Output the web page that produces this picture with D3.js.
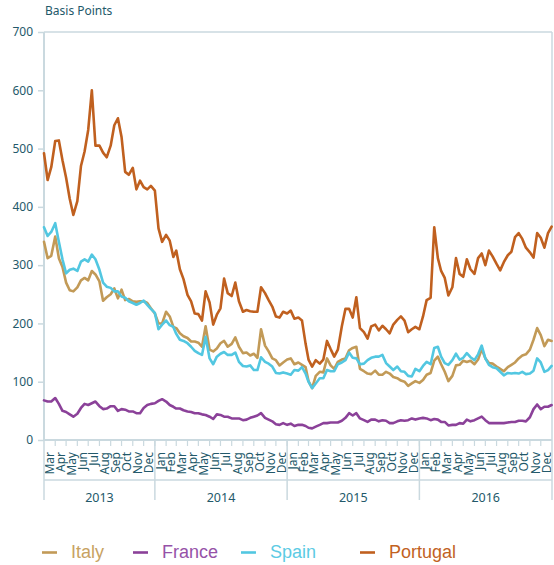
<!DOCTYPE html>
<html>
<head>
<meta charset="utf-8">
<script src="https://cdn.jsdelivr.net/npm/d3@7/dist/d3.min.js"></script>
<style>
  html, body { margin: 0; padding: 0; background: #ffffff; }
  svg { display: block; }
</style>
</head>
<body>
<div id="chart"></div>
<script>
// Sovereign spreads over German Bunds, basis points (sampled on the 1st, 11th and 21st of each month)
const dates = [
  "2013-03-01","2013-03-11","2013-03-21","2013-04-01","2013-04-11","2013-04-21",
  "2013-05-01","2013-05-11","2013-05-21","2013-06-01","2013-06-11","2013-06-21",
  "2013-07-01","2013-07-11","2013-07-21","2013-08-01","2013-08-11","2013-08-21",
  "2013-09-01","2013-09-11","2013-09-21","2013-10-01","2013-10-11","2013-10-21",
  "2013-11-01","2013-11-11","2013-11-21","2013-12-01","2013-12-11","2013-12-21",
  "2014-01-01","2014-01-11","2014-01-21","2014-02-01","2014-02-11","2014-02-21",
  "2014-03-01","2014-03-11","2014-03-21","2014-04-01","2014-04-11","2014-04-21",
  "2014-05-01","2014-05-11","2014-05-21","2014-06-01","2014-06-11","2014-06-21",
  "2014-07-01","2014-07-11","2014-07-21","2014-08-01","2014-08-11","2014-08-21",
  "2014-09-01","2014-09-11","2014-09-21","2014-10-01","2014-10-11","2014-10-21",
  "2014-11-01","2014-11-11","2014-11-21","2014-12-01","2014-12-11","2014-12-21",
  "2015-01-01","2015-01-11","2015-01-21","2015-02-01","2015-02-11","2015-02-21",
  "2015-03-01","2015-03-11","2015-03-21","2015-04-01","2015-04-11","2015-04-21",
  "2015-05-01","2015-05-11","2015-05-21","2015-06-01","2015-06-11","2015-06-21",
  "2015-07-01","2015-07-11","2015-07-21","2015-08-01","2015-08-11","2015-08-21",
  "2015-09-01","2015-09-11","2015-09-21","2015-10-01","2015-10-11","2015-10-21",
  "2015-11-01","2015-11-11","2015-11-21","2015-12-01","2015-12-11","2015-12-21",
  "2016-01-01","2016-01-11","2016-01-21","2016-02-01","2016-02-11","2016-02-21",
  "2016-03-01","2016-03-11","2016-03-21","2016-04-01","2016-04-11","2016-04-21",
  "2016-05-01","2016-05-11","2016-05-21","2016-06-01","2016-06-11","2016-06-21",
  "2016-07-01","2016-07-11","2016-07-21","2016-08-01","2016-08-11","2016-08-21",
  "2016-09-01","2016-09-11","2016-09-21","2016-10-01","2016-10-11","2016-10-21",
  "2016-11-01","2016-11-11","2016-11-21","2016-12-01","2016-12-11","2016-12-21",
  "2016-12-31"
];

const italy = [
  340,312,316,349,312,297,270,257,255,262,
  274,278,274,290,284,272,239,245,250,260,
  243,258,240,242,238,237,238,238,235,226,
  217,200,200,220,212,194,192,183,178,175,
  169,169,167,160,195,155,152,157,166,170,
  160,165,176,160,149,150,145,148,141,190,
  162,152,140,137,128,133,138,140,130,133,
  129,125,101,89,110,117,116,140,128,122,
  134,138,140,154,158,160,122,118,114,113,
  119,112,112,117,114,108,106,102,100,93,
  97,101,98,103,112,115,136,143,130,117,
  101,110,128,129,136,134,136,130,138,156,
  140,132,131,126,122,118,125,129,133,140,
  145,147,155,172,192,180,161,172,170
];

const france = [
  68,66,66,72,62,50,48,44,40,45,
  55,62,60,63,66,58,53,54,58,58,
  50,53,52,49,49,46,46,55,60,62,
  63,67,70,66,60,57,54,54,51,49,
  48,46,46,44,43,40,36,44,43,40,
  40,37,37,37,34,35,38,40,42,46,
  38,35,32,27,26,29,26,28,24,26,
  26,24,21,20,23,26,29,29,30,30,
  30,33,38,46,42,46,37,34,31,35,
  35,32,34,33,29,29,32,34,33,34,
  37,35,37,38,37,34,36,35,31,31,
  25,26,26,29,28,35,32,34,37,40,
  34,29,29,29,29,29,30,31,31,33,
  33,32,39,53,61,53,57,57,60
];

const spain = [
  365,350,357,372,340,310,286,292,294,290,
  306,310,306,318,310,292,270,263,261,255,
  255,246,244,238,235,232,235,239,232,225,
  218,190,198,205,197,194,182,172,170,166,
  160,153,149,146,177,140,130,143,148,151,
  146,146,150,134,127,126,128,120,120,142,
  134,131,126,115,114,116,114,112,120,119,
  125,114,100,89,97,106,106,120,118,118,
  130,133,137,150,141,140,130,131,137,141,
  143,143,146,132,126,120,126,118,117,110,
  109,122,118,127,134,130,158,160,143,132,
  129,137,148,138,141,149,142,137,147,162,
  140,129,125,123,117,111,115,114,115,114,
  117,113,114,119,140,133,117,120,127
];

const portugal = [
  492,446,468,513,514,480,450,414,386,410,
  470,495,532,600,505,505,493,485,505,540,
  552,520,460,455,467,430,445,434,430,436,
  428,363,340,352,342,314,325,293,276,249,
  238,217,216,205,255,236,198,215,226,277,
  252,247,270,238,220,223,221,220,220,262,
  252,240,229,212,210,220,217,222,208,210,
  205,165,138,126,137,131,138,170,156,143,
  155,195,225,225,210,245,192,185,174,195,
  198,188,196,190,183,198,206,212,205,185,
  190,194,190,212,240,244,365,312,290,278,
  248,262,312,285,280,310,293,285,312,320,
  300,325,315,302,291,305,317,323,348,355,
  345,330,322,313,355,347,330,355,366
];

const seriesNames = ["Italy", "France", "Spain", "Portugal"];
const seriesValues = [italy, france, spain, portugal];
const lineColors = ["#c29a57", "#8b4199", "#52c7e1", "#c0601f"];
const legendColors = ["#c8a262", "#9652a8", "#5ccbe4", "#c2621f"];
const yTicks = [0, 100, 200, 300, 400, 500, 600, 700];
const monthNames = ["Jan","Feb","Mar","Apr","May","Jun","Jul","Aug","Sep","Oct","Nov","Dec"];
const yearLabels = ["2013", "2014", "2015", "2016"];

const W = 554, H = 565;
const plotLeft = 44, plotRight = 552, plotTop = 32, plotBottom = 440;
const inkColor = "#23596a";
const ruleColor = "#cad9df";
const axisFont = "'Noto Sans', 'Open Sans', sans-serif";

const parse = d3.utcParse("%Y-%m-%d");
const dateObjs = dates.map(parse);
const start = new Date(Date.UTC(2013, 2, 1));
const end = new Date(Date.UTC(2017, 0, 1));

const x = d3.scaleUtc().domain([start, end]).range([plotLeft, plotRight]);
const y = d3.scaleLinear().domain([0, 700]).range([plotBottom, plotTop]);

const svg = d3.select("#chart").append("svg")
  .attr("width", W).attr("height", H)
  .attr("viewBox", `0 0 ${W} ${H}`);

// Unit label
svg.append("text")
  .attr("x", 45).attr("y", 15)
  .attr("fill", inkColor)
  .style("font-family", axisFont)
  .style("font-size", "12px")
  .text("Basis Points");

// Frame: top and right rules
svg.append("line").attr("x1", plotLeft).attr("x2", plotRight).attr("y1", plotTop).attr("y2", plotTop)
  .attr("stroke", ruleColor).attr("stroke-width", 1.5);
svg.append("line").attr("x1", plotRight).attr("x2", plotRight).attr("y1", plotTop).attr("y2", plotBottom)
  .attr("stroke", ruleColor).attr("stroke-width", 1.5);

// Y axis
const yAxis = svg.append("g")
  .attr("transform", `translate(${plotLeft},0)`)
  .call(d3.axisLeft(y).tickValues(yTicks).tickSize(6).tickPadding(5));
yAxis.select(".domain").remove();
yAxis.selectAll(".tick line").attr("stroke", ruleColor).attr("stroke-width", 1.5);
yAxis.selectAll(".tick text")
  .attr("fill", inkColor)
  .style("font-family", axisFont)
  .style("font-size", "12px");
svg.append("line").attr("x1", plotLeft).attr("x2", plotLeft).attr("y1", plotTop).attr("y2", plotBottom)
  .attr("stroke", ruleColor).attr("stroke-width", 2);

// X axis: month ticks and labels
const monthStarts = d3.utcMonth.range(start, end);
const xAxisG = svg.append("g");
xAxisG.append("line").attr("x1", plotLeft).attr("x2", plotRight).attr("y1", plotBottom).attr("y2", plotBottom)
  .attr("stroke", ruleColor).attr("stroke-width", 2);
xAxisG.selectAll("line.mtick")
  .data(monthStarts.slice(1))
  .join("line")
  .attr("class", "mtick")
  .attr("x1", d => x(d)).attr("x2", d => x(d))
  .attr("y1", plotBottom).attr("y2", plotBottom + 6)
  .attr("stroke", ruleColor).attr("stroke-width", 1.2);
xAxisG.selectAll("text.mlabel")
  .data(monthStarts)
  .join("text")
  .attr("class", "mlabel")
  .attr("transform", d => {
    const cx = (x(d) + x(d3.utcMonth.offset(d, 1))) / 2;
    return `translate(${cx},${plotBottom + 12}) rotate(-90)`;
  })
  .attr("text-anchor", "end")
  .attr("dy", "0.35em")
  .attr("fill", inkColor)
  .style("font-family", axisFont)
  .style("font-size", "12px")
  .text(d => monthNames[d.getUTCMonth()]);

// Year band
xAxisG.append("line").attr("x1", plotLeft).attr("x2", plotRight).attr("y1", 480).attr("y2", 480)
  .attr("stroke", ruleColor).attr("stroke-width", 1.5);
const yearBounds = [start, new Date(Date.UTC(2014,0,1)), new Date(Date.UTC(2015,0,1)), new Date(Date.UTC(2016,0,1)), end];
xAxisG.selectAll("line.ysep")
  .data(yearBounds)
  .join("line")
  .attr("class", "ysep")
  .attr("x1", d => x(d)).attr("x2", d => x(d))
  .attr("y1", plotBottom).attr("y2", 500)
  .attr("stroke", ruleColor).attr("stroke-width", 1.5);
xAxisG.selectAll("text.ylabel")
  .data(yearLabels)
  .join("text")
  .attr("class", "ylabel")
  .attr("x", (d, i) => (x(yearBounds[i]) + x(yearBounds[i + 1])) / 2)
  .attr("y", 502)
  .attr("text-anchor", "middle")
  .attr("fill", inkColor)
  .style("font-family", axisFont)
  .style("font-size", "12.5px")
  .text(d => d);

// Series lines
const line = d3.line()
  .x((d, i) => x(dateObjs[i]))
  .y(d => y(d))
  .curve(d3.curveLinear);

svg.append("g")
  .selectAll("path")
  .data(seriesValues)
  .join("path")
  .attr("fill", "none")
  .attr("stroke", (d, i) => lineColors[i])
  .attr("stroke-width", 2.6)
  .attr("stroke-linejoin", "round")
  .attr("stroke-linecap", "round")
  .attr("d", d => line(d));

// Legend
const legendX = [42, 133, 241, 360];
const legend = svg.append("g").selectAll("g")
  .data(seriesNames)
  .join("g")
  .attr("transform", (d, i) => `translate(${legendX[i]},0)`);
legend.append("line")
  .attr("x1", 0).attr("x2", 15).attr("y1", 552.5).attr("y2", 552.5)
  .attr("stroke", (d, i) => lineColors[i]).attr("stroke-width", 2.6);
legend.append("text")
  .attr("x", 29).attr("y", 558)
  .attr("fill", (d, i) => legendColors[i])
  .style("font-family", "'Liberation Sans', Arial, sans-serif")
  .style("font-size", "18px")
  .text(d => d);
</script>
</body>
</html>
